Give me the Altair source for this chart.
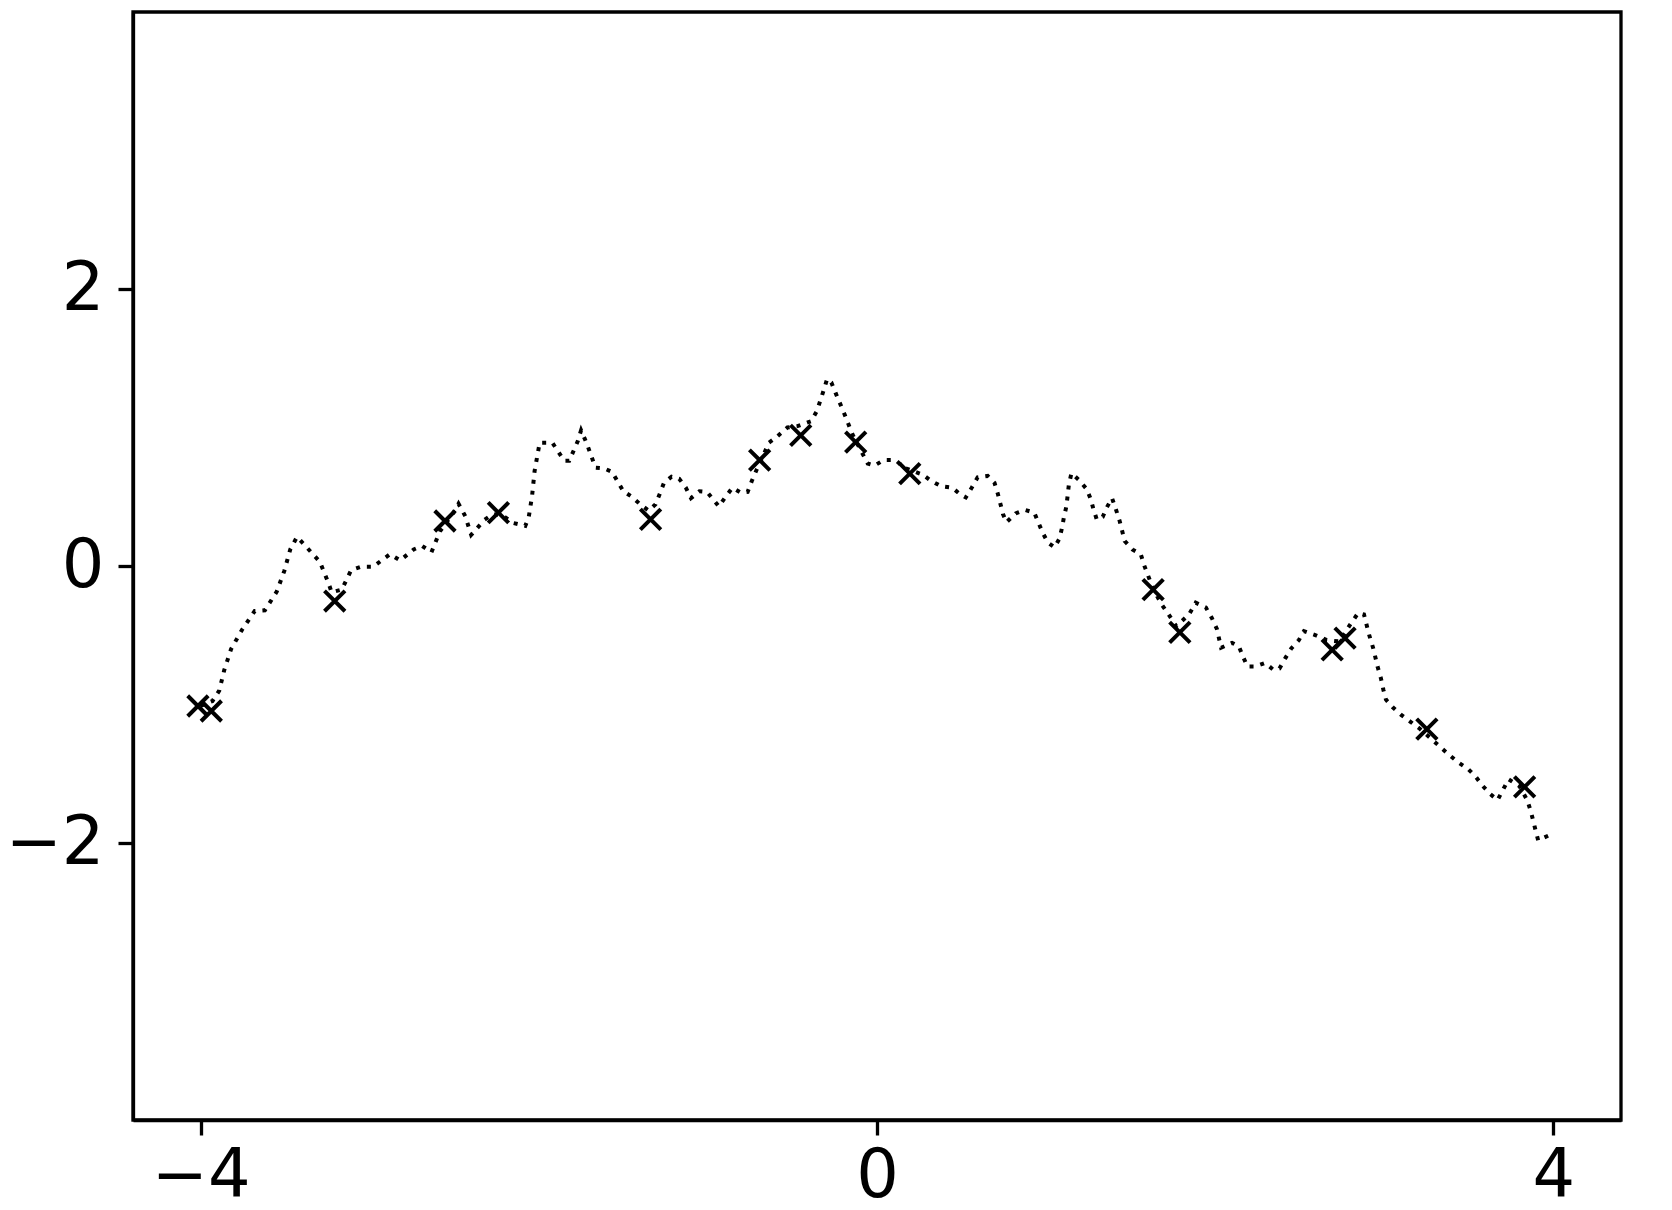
import altair as alt
import pandas as pd

# dotted sample path
line_x = [-4.00, -3.93, -3.89, -3.86, -3.82, -3.755, -3.68, -3.62, -3.55, -3.505,
          -3.47, -3.43, -3.38, -3.295, -3.245, -3.225, -3.165, -3.11, -3.05, -2.98,
          -2.88, -2.82, -2.74, -2.69, -2.635, -2.585, -2.505, -2.475, -2.435, -2.40,
          -2.32, -2.27, -2.21, -2.15, -2.08, -2.06, -2.04, -2.025, -1.995, -1.92,
          -1.85, -1.82, -1.77, -1.75, -1.715, -1.665, -1.615, -1.567, -1.50, -1.45,
          -1.40, -1.35, -1.31, -1.285, -1.26, -1.215, -1.17, -1.13, -1.10, -1.05,
          -1.005, -0.965, -0.935, -0.895, -0.855, -0.805, -0.765, -0.74, -0.71, -0.67,
          -0.64, -0.60, -0.53, -0.47, -0.39, -0.355, -0.315, -0.295, -0.27, -0.245,
          -0.195, -0.145, -0.085, -0.055, -0.015, 0.04, 0.11, 0.16, 0.27, 0.32,
          0.38, 0.445, 0.495, 0.525, 0.56, 0.595, 0.655, 0.695, 0.715, 0.745,
          0.765, 0.82, 0.875, 0.93, 0.98, 1.01, 1.05, 1.08, 1.095, 1.105,
          1.12, 1.135, 1.15, 1.195, 1.24, 1.265, 1.28, 1.30, 1.335, 1.36,
          1.39, 1.41, 1.435, 1.465, 1.51, 1.56, 1.58, 1.605, 1.635, 1.685,
          1.725, 1.77, 1.845, 1.885, 1.945, 1.98, 2.01, 2.035, 2.10, 2.14,
          2.165, 2.19, 2.24, 2.295, 2.345, 2.38, 2.415, 2.45, 2.495, 2.525,
          2.595, 2.66, 2.735, 2.80, 2.845, 2.88, 2.91, 2.935, 2.96, 2.98,
          2.995, 3.01, 3.05, 3.10, 3.155, 3.21, 3.33, 3.385, 3.44, 3.495,
          3.54, 3.58, 3.625, 3.67, 3.735, 3.80, 3.845, 3.865, 3.88, 3.895,
          3.91, 4.00]
line_y = [-1.01, -0.975, -0.90, -0.75, -0.60, -0.46, -0.325, -0.32, -0.185, -0.035,
          0.12, 0.21, 0.145, 0.03, -0.12, -0.19, -0.17, -0.03, -0.005, -0.005,
          0.085, 0.04, 0.12, 0.145, 0.10, 0.25, 0.385, 0.45, 0.36, 0.225,
          0.335, 0.375, 0.36, 0.31, 0.29, 0.35, 0.505, 0.685, 0.89, 0.89,
          0.76, 0.76, 0.90, 0.98, 0.88, 0.71, 0.705, 0.68, 0.54, 0.50,
          0.445, 0.40, 0.445, 0.52, 0.60, 0.645, 0.63, 0.565, 0.49, 0.54,
          0.535, 0.475, 0.43, 0.50, 0.565, 0.53, 0.535, 0.615, 0.70, 0.805,
          0.89, 0.925, 1.00, 1.01, 1.045, 1.12, 1.27, 1.35, 1.325, 1.25,
          1.105, 0.95, 0.81, 0.74, 0.725, 0.765, 0.765, 0.71, 0.66, 0.615,
          0.575, 0.565, 0.515, 0.495, 0.565, 0.64, 0.65, 0.60, 0.52, 0.375,
          0.315, 0.38, 0.405, 0.385, 0.24, 0.17, 0.135, 0.20, 0.28, 0.35,
          0.43, 0.59, 0.67, 0.62, 0.555, 0.48, 0.41, 0.335, 0.355, 0.425,
          0.49, 0.42, 0.325, 0.18, 0.12, 0.085, 0.005, -0.075, -0.17, -0.28,
          -0.35, -0.435, -0.35, -0.265, -0.30, -0.375, -0.455, -0.59, -0.555, -0.58,
          -0.655, -0.725, -0.725, -0.70, -0.75, -0.74, -0.665, -0.595, -0.535, -0.47,
          -0.50, -0.535, -0.545, -0.42, -0.34, -0.35, -0.495, -0.595, -0.725, -0.81,
          -0.895, -0.965, -1.02, -1.075, -1.125, -1.175, -1.305, -1.365, -1.42, -1.465,
          -1.52, -1.585, -1.645, -1.69, -1.54, -1.59, -1.69, -1.765, -1.835, -1.91,
          -1.98, -1.93]

# observations (crosses)
obs_x = [-4.016, -3.937, -3.207, -2.555, -2.239, -1.339, -0.694, -0.451,
         -0.126, 0.194, 1.633, 1.791, 2.692, 2.768, 3.252, 3.830]
obs_y = [-1.011, -1.047, -0.253, 0.325, 0.385, 0.337, 0.765, 0.943,
         0.895, 0.667, -0.170, -0.479, -0.605, -0.521, -1.178, -1.595]

x_ticks = [-4, 0, 4]
y_ticks = [-2, 0, 2]

line_df = pd.DataFrame({"x": line_x, "y": line_y})
obs_df = pd.DataFrame({"x": obs_x, "y": obs_y})

FONT = "DejaVu Sans"

xscale = alt.Scale(domain=[-4.4, 4.4], nice=False, zero=False)
yscale = alt.Scale(domain=[-4, 4], nice=False, zero=False)

xaxis = alt.Axis(values=x_ticks, title=None, grid=False, labelFont=FONT, format="d",
                 labelFontSize=67, labelColor="black", tickColor="black",
                 tickSize=15, tickWidth=3.3, domainColor="black", domainWidth=3.3,
                 labelPadding=8, labelExpr="replace(datum.label, '-', '\u2212')",
                 labelFlush=False, labelOverlap=False)
yaxis = alt.Axis(values=y_ticks, title=None, grid=False, labelFont=FONT, format="d",
                 labelFontSize=67, labelColor="black", tickColor="black",
                 tickSize=15, tickWidth=3.3, domainColor="black", domainWidth=3.3,
                 labelPadding=14, labelExpr="replace(datum.label, '-', '\u2212')",
                 labelFlush=False, labelOverlap=False)

line = alt.Chart(line_df).mark_line(
    color="black", strokeWidth=4, strokeDash=[4, 7], strokeCap="butt"
).encode(
    x=alt.X("x:Q", scale=xscale, axis=xaxis),
    y=alt.Y("y:Q", scale=yscale, axis=yaxis),
    order=alt.Order("x:Q"),
)

pts = alt.Chart(obs_df).mark_point(
    shape="M-1,-1L1,1M1,-1L-1,1", filled=False, stroke="black",
    strokeWidth=4, size=420, opacity=1
).encode(
    x=alt.X("x:Q", scale=xscale),
    y=alt.Y("y:Q", scale=yscale),
)

chart = alt.layer(line, pts).properties(
    width=1488, height=1108,
    padding={"left": 125, "top": 4, "right": 42, "bottom": 80},
    autosize=alt.AutoSizeParams(type="none"),
    background="white",
).configure_view(
    stroke="black", strokeWidth=3.3, fill="white"
)

chart.save("out.html", embed_options={"renderer": "svg", "actions": False})
